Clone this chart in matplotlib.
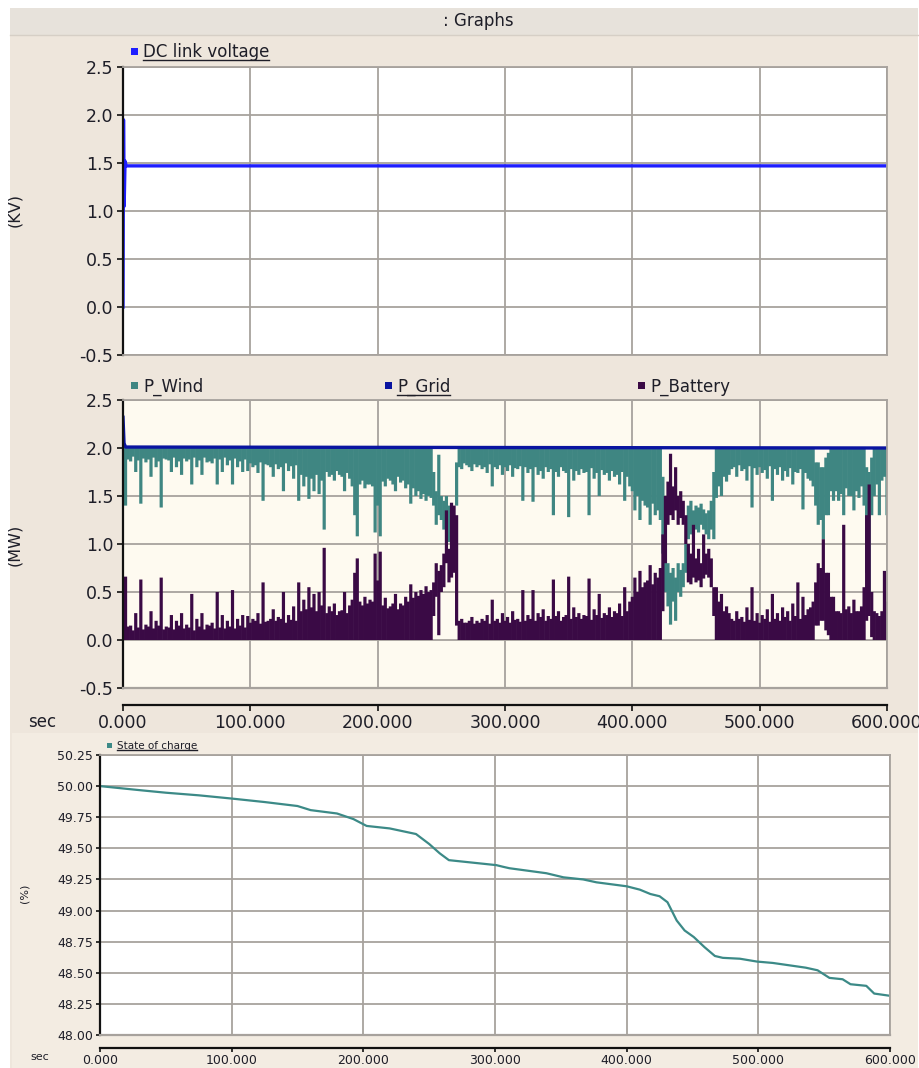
import matplotlib

matplotlib.use("Agg")
import matplotlib.pyplot as plt
import numpy as np
from matplotlib.lines import Line2D
from matplotlib.patches import Rectangle

# ---- data -------------------------------------------------------------
# DC link voltage (kV)
dc_t = [0.0, 0.4, 0.9, 1.6, 2.5, 600.0]
dc_v = [0.0, 1.95, 1.05, 1.52, 1.47, 1.47]

# Grid power (MW)
grid_t = [0.0, 0.8, 2.0, 600.0]
grid_v = [2.32, 2.05, 2.01, 2.0]

# Wind and battery power (MW): min / max of the trace in each 2 s bin, 0..600 s
p_t = np.arange(0, 601, 2)

wind_lo = [
    1.90, 1.40, 1.88, 1.86, 1.91, 1.75, 1.87, 1.42, 1.89, 1.85,
    1.88, 1.70, 1.90, 1.80, 1.86, 1.38, 1.89, 1.88, 1.87, 1.75,
    1.90, 1.80, 1.86, 1.72, 1.89, 1.86, 1.88, 1.62, 1.90, 1.80,
    1.87, 1.72, 1.90, 1.85, 1.86, 1.84, 1.89, 1.62, 1.88, 1.75,
    1.90, 1.82, 1.87, 1.62, 1.89, 1.80, 1.86, 1.75, 1.88, 1.76,
    1.84, 1.80, 1.82, 1.74, 1.85, 1.45, 1.83, 1.82, 1.80, 1.70,
    1.83, 1.78, 1.80, 1.55, 1.84, 1.76, 1.81, 1.68, 1.82, 1.45,
    1.72, 1.60, 1.70, 1.47, 1.68, 1.55, 1.72, 1.52, 1.66, 1.15,
    1.75, 1.70, 1.72, 1.66, 1.76, 1.72, 1.70, 1.55, 1.74, 1.68,
    1.60, 1.30, 1.08, 1.62, 1.66, 1.58, 1.62, 1.62, 1.60, 1.12,
    1.40, 1.08, 1.65, 1.60, 1.68, 1.66, 1.62, 1.55, 1.70, 1.64,
    1.66, 1.58, 1.62, 1.42, 1.58, 1.50, 1.55, 1.47, 1.52, 1.45,
    1.50, 1.48, 1.40, 1.20, 1.30, 1.25, 1.15, 1.22, 1.02, 1.15,
    0.97, 1.40, 1.80, 1.78, 1.84, 1.82, 1.80, 1.76, 1.83, 1.80,
    1.82, 1.78, 1.80, 1.74, 1.83, 1.60, 1.80, 1.78, 1.82, 1.72,
    1.80, 1.76, 1.82, 1.70, 1.79, 1.78, 1.81, 1.45, 1.80, 1.74,
    1.78, 1.44, 1.80, 1.72, 1.76, 1.68, 1.80, 1.75, 1.78, 1.30,
    1.75, 1.70, 1.80, 1.76, 1.74, 1.28, 1.78, 1.66, 1.76, 1.72,
    1.78, 1.74, 1.75, 1.30, 1.79, 1.68, 1.74, 1.50, 1.77, 1.72,
    1.74, 1.66, 1.76, 1.70, 1.72, 1.62, 1.75, 1.45, 1.70, 1.60,
    1.55, 1.35, 1.50, 1.25, 1.45, 1.40, 1.38, 1.20, 1.42, 1.30,
    1.35, 1.25, 0.90, 0.50, 0.35, 0.16, 0.40, 0.20, 0.50, 0.45,
    0.55, 0.70, 1.05, 1.10, 1.10, 1.15, 1.12, 1.20, 1.15, 1.10,
    1.05, 1.15, 1.05, 1.48, 1.60, 1.50, 1.70, 1.65, 1.72, 1.78,
    1.80, 1.70, 1.82, 1.76, 1.78, 1.66, 1.81, 1.38, 1.79, 1.72,
    1.80, 1.74, 1.77, 1.68, 1.81, 1.45, 1.78, 1.72, 1.80, 1.66,
    1.76, 1.70, 1.79, 1.62, 1.75, 1.74, 1.78, 1.36, 1.74, 1.68,
    1.66, 1.60, 1.40, 1.20, 1.25, 1.05, 1.30, 1.30, 1.55, 1.45,
    1.55, 1.45, 1.52, 1.30, 1.58, 1.50, 1.50, 1.35, 1.55, 1.48,
    1.60, 1.40, 0.70, 0.45, 1.30, 1.50, 1.62, 1.30, 1.66, 1.70,
    1.30,
]
wind_hi = [
    2.00, 2.00, 2.00, 2.00, 2.00, 2.00, 2.00, 2.00, 2.00, 2.00,
    2.00, 2.00, 2.00, 2.00, 2.00, 2.00, 2.00, 2.00, 2.00, 2.00,
    2.00, 2.00, 2.00, 2.00, 2.00, 2.00, 2.00, 2.00, 2.00, 2.00,
    2.00, 2.00, 2.00, 2.00, 2.00, 2.00, 2.00, 2.00, 2.00, 2.00,
    2.00, 2.00, 2.00, 2.00, 2.00, 2.00, 2.00, 2.00, 2.00, 2.00,
    2.00, 2.00, 2.00, 2.00, 2.00, 2.00, 2.00, 2.00, 2.00, 2.00,
    2.00, 2.00, 2.00, 2.00, 2.00, 2.00, 2.00, 2.00, 2.00, 2.00,
    2.00, 2.00, 2.00, 2.00, 2.00, 2.00, 2.00, 2.00, 2.00, 2.00,
    2.00, 2.00, 2.00, 2.00, 2.00, 2.00, 2.00, 2.00, 2.00, 2.00,
    2.00, 2.00, 2.00, 2.00, 2.00, 2.00, 2.00, 2.00, 2.00, 2.00,
    2.00, 2.00, 2.00, 2.00, 2.00, 2.00, 2.00, 2.00, 2.00, 2.00,
    2.00, 2.00, 2.00, 2.00, 2.00, 2.00, 2.00, 2.00, 2.00, 2.00,
    2.00, 2.00, 1.75, 1.55, 1.93, 1.50, 1.45, 1.50, 1.40, 1.35,
    1.30, 1.85, 2.00, 2.00, 2.00, 2.00, 2.00, 2.00, 2.00, 2.00,
    2.00, 2.00, 2.00, 2.00, 2.00, 2.00, 2.00, 2.00, 2.00, 2.00,
    2.00, 2.00, 2.00, 2.00, 2.00, 2.00, 2.00, 2.00, 2.00, 2.00,
    2.00, 2.00, 2.00, 2.00, 2.00, 2.00, 2.00, 2.00, 2.00, 2.00,
    2.00, 2.00, 2.00, 2.00, 2.00, 2.00, 2.00, 2.00, 2.00, 2.00,
    2.00, 2.00, 2.00, 2.00, 2.00, 2.00, 2.00, 2.00, 2.00, 2.00,
    2.00, 2.00, 2.00, 2.00, 2.00, 2.00, 2.00, 2.00, 2.00, 2.00,
    2.00, 2.00, 2.00, 2.00, 2.00, 2.00, 2.00, 2.00, 2.00, 2.00,
    2.00, 2.00, 1.70, 1.20, 0.80, 0.70, 0.75, 0.65, 0.80, 0.73,
    0.80, 1.00, 1.40, 1.45, 1.35, 1.40, 1.38, 1.42, 1.36, 1.32,
    1.35, 1.45, 1.75, 2.00, 2.00, 2.00, 2.00, 2.00, 2.00, 2.00,
    2.00, 2.00, 2.00, 2.00, 2.00, 2.00, 2.00, 2.00, 2.00, 2.00,
    2.00, 2.00, 2.00, 2.00, 2.00, 2.00, 2.00, 2.00, 2.00, 2.00,
    2.00, 2.00, 2.00, 2.00, 2.00, 2.00, 2.00, 2.00, 2.00, 2.00,
    2.00, 2.00, 1.85, 1.85, 1.80, 1.80, 1.90, 1.95, 2.00, 2.00,
    2.00, 2.00, 2.00, 2.00, 2.00, 2.00, 2.00, 2.00, 2.00, 2.00,
    2.00, 2.00, 1.80, 1.75, 1.90, 2.00, 2.00, 2.00, 2.00, 2.00,
    2.00,
]

battery_lo = [
    0.00, 0.00, 0.00, 0.00, 0.00, 0.00, 0.00, 0.00, 0.00, 0.00,
    0.00, 0.00, 0.00, 0.00, 0.00, 0.00, 0.00, 0.00, 0.00, 0.00,
    0.00, 0.00, 0.00, 0.00, 0.00, 0.00, 0.00, 0.00, 0.00, 0.00,
    0.00, 0.00, 0.00, 0.00, 0.00, 0.00, 0.00, 0.00, 0.00, 0.00,
    0.00, 0.00, 0.00, 0.00, 0.00, 0.00, 0.00, 0.00, 0.00, 0.00,
    0.00, 0.00, 0.00, 0.00, 0.00, 0.00, 0.00, 0.00, 0.00, 0.00,
    0.00, 0.00, 0.00, 0.00, 0.00, 0.00, 0.00, 0.00, 0.00, 0.00,
    0.00, 0.00, 0.00, 0.00, 0.00, 0.00, 0.00, 0.00, 0.00, 0.00,
    0.00, 0.00, 0.00, 0.00, 0.00, 0.00, 0.00, 0.00, 0.00, 0.00,
    0.00, 0.00, 0.00, 0.00, 0.00, 0.00, 0.00, 0.00, 0.00, 0.00,
    0.00, 0.00, 0.00, 0.00, 0.00, 0.00, 0.00, 0.00, 0.00, 0.00,
    0.00, 0.00, 0.00, 0.00, 0.00, 0.00, 0.00, 0.00, 0.00, 0.00,
    0.00, 0.00, 0.25, 0.45, 0.05, 0.50, 0.55, 0.80, 0.60, 0.65,
    0.70, 0.15, 0.00, 0.00, 0.00, 0.00, 0.00, 0.00, 0.00, 0.00,
    0.00, 0.00, 0.00, 0.00, 0.00, 0.00, 0.00, 0.00, 0.00, 0.00,
    0.00, 0.00, 0.00, 0.00, 0.00, 0.00, 0.00, 0.00, 0.00, 0.00,
    0.00, 0.00, 0.00, 0.00, 0.00, 0.00, 0.00, 0.00, 0.00, 0.00,
    0.00, 0.00, 0.00, 0.00, 0.00, 0.00, 0.00, 0.00, 0.00, 0.00,
    0.00, 0.00, 0.00, 0.00, 0.00, 0.00, 0.00, 0.00, 0.00, 0.00,
    0.00, 0.00, 0.00, 0.00, 0.00, 0.00, 0.00, 0.00, 0.00, 0.00,
    0.00, 0.00, 0.00, 0.00, 0.00, 0.00, 0.00, 0.00, 0.00, 0.00,
    0.00, 0.00, 0.30, 0.80, 1.20, 1.30, 1.25, 1.35, 1.20, 1.27,
    1.20, 1.00, 0.60, 0.58, 0.65, 0.60, 0.62, 0.55, 0.64, 0.68,
    0.65, 0.55, 0.25, 0.00, 0.00, 0.00, 0.00, 0.00, 0.00, 0.00,
    0.00, 0.00, 0.00, 0.00, 0.00, 0.00, 0.00, 0.00, 0.00, 0.00,
    0.00, 0.00, 0.00, 0.00, 0.00, 0.00, 0.00, 0.00, 0.00, 0.00,
    0.00, 0.00, 0.00, 0.00, 0.00, 0.00, 0.00, 0.00, 0.00, 0.00,
    0.00, 0.00, 0.15, 0.15, 0.20, 0.20, 0.10, 0.05, 0.00, 0.00,
    0.00, 0.00, 0.00, 0.00, 0.00, 0.00, 0.00, 0.00, 0.00, 0.00,
    0.00, 0.00, 0.20, 0.25, 0.03, 0.00, 0.00, 0.00, 0.00, 0.00,
    0.00,
]
battery_hi = [
    0.12, 0.66, 0.14, 0.15, 0.10, 0.28, 0.13, 0.63, 0.11, 0.16,
    0.14, 0.30, 0.12, 0.20, 0.15, 0.65, 0.11, 0.14, 0.13, 0.26,
    0.11, 0.20, 0.15, 0.28, 0.12, 0.16, 0.13, 0.48, 0.10, 0.22,
    0.14, 0.28, 0.11, 0.16, 0.15, 0.18, 0.12, 0.50, 0.13, 0.26,
    0.12, 0.20, 0.14, 0.52, 0.12, 0.22, 0.15, 0.26, 0.13, 0.25,
    0.18, 0.22, 0.20, 0.28, 0.17, 0.60, 0.19, 0.20, 0.22, 0.32,
    0.20, 0.24, 0.22, 0.50, 0.18, 0.26, 0.21, 0.35, 0.20, 0.60,
    0.30, 0.42, 0.32, 0.55, 0.34, 0.48, 0.30, 0.50, 0.36, 0.96,
    0.28, 0.35, 0.30, 0.38, 0.26, 0.30, 0.31, 0.50, 0.28, 0.36,
    0.42, 0.70, 0.85, 0.40, 0.36, 0.45, 0.38, 0.42, 0.40, 0.90,
    0.62, 0.92, 0.36, 0.44, 0.33, 0.35, 0.38, 0.48, 0.32, 0.38,
    0.36, 0.45, 0.40, 0.58, 0.44, 0.50, 0.46, 0.52, 0.48, 0.56,
    0.50, 0.52, 0.60, 0.80, 0.72, 0.78, 0.90, 1.35, 0.95, 1.43,
    1.40, 1.30, 0.20, 0.22, 0.18, 0.18, 0.20, 0.24, 0.17, 0.20,
    0.18, 0.22, 0.20, 0.26, 0.17, 0.42, 0.20, 0.22, 0.18, 0.28,
    0.20, 0.24, 0.18, 0.30, 0.21, 0.22, 0.19, 0.52, 0.20, 0.26,
    0.22, 0.52, 0.20, 0.28, 0.24, 0.32, 0.20, 0.25, 0.22, 0.63,
    0.25, 0.30, 0.20, 0.24, 0.26, 0.66, 0.22, 0.34, 0.24, 0.28,
    0.22, 0.26, 0.25, 0.64, 0.21, 0.32, 0.26, 0.48, 0.23, 0.28,
    0.26, 0.34, 0.24, 0.30, 0.28, 0.38, 0.25, 0.55, 0.30, 0.40,
    0.45, 0.65, 0.50, 0.72, 0.55, 0.60, 0.62, 0.78, 0.58, 0.70,
    0.65, 0.75, 1.10, 1.50, 1.65, 1.94, 1.60, 1.80, 1.50, 1.55,
    1.45, 1.30, 1.00, 0.90, 1.20, 0.85, 0.95, 0.80, 1.10, 0.90,
    0.95, 0.85, 0.55, 0.55, 0.40, 0.48, 0.30, 0.35, 0.28, 0.22,
    0.20, 0.30, 0.22, 0.24, 0.19, 0.34, 0.21, 0.55, 0.20, 0.28,
    0.18, 0.26, 0.22, 0.32, 0.19, 0.48, 0.22, 0.28, 0.20, 0.34,
    0.24, 0.30, 0.20, 0.38, 0.25, 0.60, 0.22, 0.45, 0.26, 0.32,
    0.34, 0.40, 0.60, 0.80, 0.75, 1.05, 0.70, 0.70, 0.45, 0.45,
    0.30, 0.30, 0.28, 1.20, 0.32, 0.35, 0.28, 0.42, 0.30, 0.30,
    0.35, 0.55, 1.30, 1.62, 0.50, 0.30, 0.28, 0.25, 0.30, 0.72,
    0.40,
]

# Battery state of charge (%)
soc_t = [0, 25, 32.5, 50, 75, 100, 125, 150, 160, 180, 192.5, 202.5, 220, 240,
         250, 258, 265, 301, 306, 311, 339, 352, 367, 377, 400, 410, 418, 425,
         431, 438, 444, 451, 459, 467, 473, 486, 499, 511, 536, 545, 554, 564,
         570, 582, 588, 600]
soc_v = [50.00, 49.973, 49.965, 49.947, 49.926, 49.90, 49.872, 49.84, 49.807,
         49.78, 49.735, 49.68, 49.66, 49.615, 49.535, 49.46, 49.405, 49.365,
         49.352, 49.34, 49.30, 49.267, 49.25, 49.227, 49.195, 49.168, 49.133,
         49.115, 49.067, 48.92, 48.84, 48.787, 48.707, 48.635, 48.62, 48.613,
         48.59, 48.579, 48.541, 48.52, 48.459, 48.448, 48.408, 48.395, 48.333,
         48.315]

time_ticks = [0, 100, 200, 300, 400, 500, 600]
kv_ticks = [-0.5, 0.0, 0.5, 1.0, 1.5, 2.0, 2.5]
soc_ticks = [48.00, 48.25, 48.50, 48.75, 49.00, 49.25, 49.50, 49.75, 50.00, 50.25]

# ---- styling ----------------------------------------------------------
W, H = 920, 1068
FRAME = "#EEE6DC"
GRID = "#A7A29D"
TXT = "#1E1E28"
C_DC = "#1E1EFF"
C_GRID = "#0A14A0"
C_WIND = "#3F8682"
C_BATT = "#3A0A45"
C_SOC = "#3C8A87"

plt.rcParams["font.family"] = "DejaVu Sans"

fig = plt.figure(figsize=(W / 100, H / 100), dpi=100, facecolor="white")


def px_rect(x0, y0, x1, y1, color, **kw):
    fig.add_artist(Rectangle((x0 / W, 1 - y1 / H), (x1 - x0) / W, (y1 - y0) / H,
                             transform=fig.transFigure, facecolor=color,
                             edgecolor="none", **kw))


def px_axes(x0, y0, x1, y1):
    return fig.add_axes([x0 / W, 1 - y1 / H, (x1 - x0) / W, (y1 - y0) / H])


def px_text(x, y, s, **kw):
    return fig.text(x / W, 1 - y / H, s, color=TXT, **kw)


# window frame, title bar and lower pane
px_rect(10, 8, 918, 1068, FRAME, zorder=-5)
px_rect(10, 8, 918, 35, "#E7E2DB", zorder=-4)
px_rect(12, 733, 918, 1068, "#F3ECE2", zorder=-4)
fig.add_artist(Line2D([10 / W, 918 / W], [1 - 35 / H] * 2, transform=fig.transFigure,
                      color="#D6CFC6", lw=1))
px_text(478, 21, ": Graphs", fontsize=12, ha="center", va="center")


def style_axes(ax, ylim, yticks, fs, bg, xlabels, tick_len=4, pad=3):
    ax.set_facecolor(bg)
    ax.set_xlim(0, 600)
    ax.set_ylim(*ylim)
    ax.set_xticks(time_ticks)
    ax.set_yticks(yticks)
    ax.grid(True, color=GRID, lw=1.3)
    for side in ("top", "right", "bottom"):
        ax.spines[side].set_color(GRID)
        ax.spines[side].set_linewidth(1.3)
    ax.spines["left"].set_color("#111111")
    ax.spines["left"].set_linewidth(1.6)
    ax.tick_params(axis="y", direction="out", length=tick_len, width=1.2, color="#111111",
                   labelsize=fs, labelcolor=TXT, pad=pad)
    if xlabels:
        ax.spines["bottom"].set_position(("outward", 12))
        ax.spines["bottom"].set_color("#111111")
        ax.spines["bottom"].set_linewidth(1.6)
        ax.axhline(ylim[0], color=GRID, lw=1.6, clip_on=False, zorder=3)
        ax.set_xticklabels([f"{t:.3f}" for t in time_ticks])
        ax.tick_params(axis="x", direction="out", length=tick_len, width=1.2,
                       color="#111111", labelsize=fs, labelcolor=TXT, pad=pad)
    else:
        ax.tick_params(axis="x", length=0, labelbottom=False)


# ---- DC link voltage --------------------------------------------------
ax1 = px_axes(123, 67, 887, 355)
style_axes(ax1, (-0.5, 2.5), kv_ticks, 12.5, "white", False)
ax1.yaxis.set_major_formatter(matplotlib.ticker.FormatStrFormatter("%.1f"))
ax1.plot(dc_t, dc_v, color=C_DC, lw=2.4)

# ---- power flows ------------------------------------------------------
# one vertical stroke per 2 s bin, from its minimum to its maximum
ax2 = px_axes(123, 400, 887, 688)
style_axes(ax2, (-0.5, 2.5), kv_ticks, 12.5, "#FEFAF0", True)
ax2.yaxis.set_major_formatter(matplotlib.ticker.FormatStrFormatter("%.1f"))
ax2.vlines(p_t, wind_lo, wind_hi, color=C_WIND, lw=2.3, snap=False)
ax2.vlines(p_t, battery_lo, battery_hi, color=C_BATT, lw=2.3, snap=False)
ax2.plot(grid_t, grid_v, color=C_GRID, lw=2.4)

# ---- state of charge --------------------------------------------------
ax3 = px_axes(100, 755, 890, 1035)
style_axes(ax3, (48.0, 50.25), soc_ticks, 9, "white", True, tick_len=3, pad=2)
ax3.yaxis.set_major_formatter(matplotlib.ticker.FormatStrFormatter("%.2f"))
ax3.spines["bottom"].set_position(("outward", 9))
ax3.plot(soc_t, soc_v, color=C_SOC, lw=1.6)

# ---- axis captions ----------------------------------------------------
px_text(15, 210, "(KV)", fontsize=11.5, rotation=90, ha="center", va="center")
px_text(15, 545, "(MW)", fontsize=11.5, rotation=90, ha="center", va="center")
px_text(25, 893, "(%)", fontsize=8, rotation=90, ha="center", va="center")
px_text(42, 722, "sec", fontsize=12, ha="center", va="center")
px_text(40, 1057, "sec", fontsize=8, ha="center", va="center")

# ---- legends ------------------------------------------------------------
renderer = fig.canvas.get_renderer()


def legend_item(x, y, label, color, fs, size, under):
    px_rect(x - size - 5, y - size / 2 - 1, x - 5, y + size / 2 - 1, color)
    t = px_text(x, y, label, fontsize=fs, ha="left", va="center")
    if under:
        bb = t.get_window_extent(renderer)
        yline = (bb.y0 + 1.5) / H
        fig.add_artist(Line2D([bb.x0 / W, bb.x1 / W], [yline, yline],
                              transform=fig.transFigure, color=TXT, lw=1.0))


legend_item(143, 52, "DC link voltage", C_DC, 12, 7, True)
legend_item(143, 387, "P_Wind", C_WIND, 12, 7, False)
legend_item(397, 387, "P_Grid", C_GRID, 12, 7, True)
legend_item(650, 387, "P_Battery", C_BATT, 12, 7, False)
legend_item(117, 746, "State of charge", C_SOC, 7.5, 5, True)

fig.savefig("out.png", dpi=100, facecolor=fig.get_facecolor())
plt.close(fig)
